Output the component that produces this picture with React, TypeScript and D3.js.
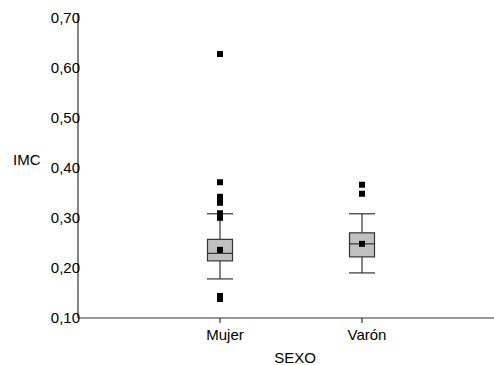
import React from "react";
import * as d3 from "d3";

const categories = ["Mujer", "Varón"];
const q1 = [0.214, 0.222];
const median = [0.229, 0.248];
const q3 = [0.257, 0.27];
const whiskerLow = [0.178, 0.19];
const whiskerHigh = [0.308, 0.308];
const means = [0.236, 0.248];
const outliersMujer = [0.627, 0.371, 0.342, 0.334, 0.33, 0.309, 0.3, 0.144, 0.138];
const outliersVaron = [0.366, 0.348];
const yTicks = [0.1, 0.2, 0.3, 0.4, 0.5, 0.6, 0.7];

export default function App() {
  const W = 494, H = 365;
  const x0 = 78, yBottom = 318;
  const y = d3.scaleLinear().domain([0.1, 0.7]).range([yBottom, 17.4]);
  const x = d3.scalePoint<string>().domain(categories).range([x0, 504]).padding(1);
  const fmt = (v: number) => d3.format(".2f")(v).replace(".", ",");
  const font = "Arial, 'Liberation Sans', sans-serif";
  const boxW = 25;
  const sq = 6;
  const outliers = [outliersMujer, outliersVaron];
  const stroke = "#333";

  return (
    <svg width={W} height={H} style={{ position: "absolute", left: 0, top: 0 }} fontFamily={font}>
      <rect width={W} height={H} fill="#fff" />
      {/* axes */}
      <line x1={x0} x2={x0} y1={13} y2={yBottom} stroke={stroke} strokeWidth={1.2} />
      <line x1={x0} x2={W} y1={yBottom} y2={yBottom} stroke={stroke} strokeWidth={1.2} />
      {yTicks.map((t) => (
        <text key={t} x={80} y={y(t)} dy="0.36em" textAnchor="end" fontSize={15} fill="#000">
          {fmt(t)}
        </text>
      ))}
      <text x={13} y={165} fontSize={15} fill="#000">IMC</text>
      {categories.map((c) => (
        <g key={c}>
          <line x1={x(c)!} x2={x(c)!} y1={yBottom} y2={yBottom + 5} stroke={stroke} strokeWidth={1.2} />
          <text x={x(c)! + 5} y={340} textAnchor="middle" fontSize={15} fill="#000">{c}</text>
        </g>
      ))}
      <text x={295} y={363} textAnchor="middle" fontSize={15} fill="#000">SEXO</text>
      {/* boxes */}
      {categories.map((c, i) => {
        const cx = x(c)!;
        return (
          <g key={"b" + c}>
            <line x1={cx} x2={cx} y1={y(whiskerHigh[i])} y2={y(q3[i])} stroke={stroke} strokeWidth={1.2} />
            <line x1={cx} x2={cx} y1={y(q1[i])} y2={y(whiskerLow[i])} stroke={stroke} strokeWidth={1.2} />
            <line x1={cx - 13} x2={cx + 13} y1={y(whiskerHigh[i])} y2={y(whiskerHigh[i])} stroke={stroke} strokeWidth={1.2} />
            <line x1={cx - 13} x2={cx + 13} y1={y(whiskerLow[i])} y2={y(whiskerLow[i])} stroke={stroke} strokeWidth={1.2} />
            <rect x={cx - boxW / 2} y={y(q3[i])} width={boxW} height={y(q1[i]) - y(q3[i])} fill="#c0c0c0" stroke={stroke} strokeWidth={1.2} />
            <line x1={cx - boxW / 2} x2={cx + boxW / 2} y1={y(median[i])} y2={y(median[i])} stroke={stroke} strokeWidth={1.2} />
            <rect x={cx - sq / 2} y={y(means[i]) - sq / 2} width={sq} height={sq} fill="#000" />
            {outliers[i].map((v, k) => (
              <rect key={k} x={cx - sq / 2} y={y(v) - sq / 2} width={sq} height={sq} fill="#000" />
            ))}
          </g>
        );
      })}
    </svg>
  );
}
